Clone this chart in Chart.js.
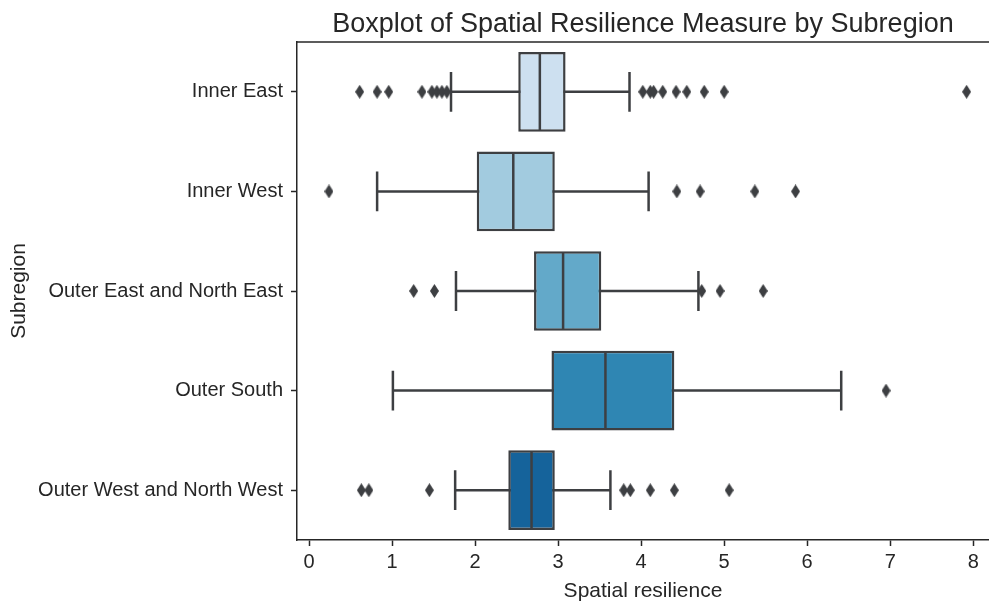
<!DOCTYPE html>
<html>
<head>
<meta charset="utf-8">
<title>Boxplot of Spatial Resilience Measure by Subregion</title>
<script src="https://cdn.jsdelivr.net/npm/chart.js@4/dist/chart.umd.min.js"></script>
<style>
  html, body { margin: 0; padding: 0; background: #ffffff; }
  #wrap { width: 989px; height: 604px; }
</style>
</head>
<body>
<div id="wrap"><canvas id="boxChart" width="989" height="604"></canvas></div>
<script>
const subregions = [
  "Inner East",
  "Inner West",
  "Outer East and North East",
  "Outer South",
  "Outer West and North West",
];

// five-number summaries
const whiskerLow = [1.71, 0.82, 1.77, 1.01, 1.76];
const q1 = [2.52, 2.02, 2.71, 2.92, 2.40];
const median = [2.78, 2.46, 3.06, 3.57, 2.68];
const q3 = [3.09, 2.96, 3.52, 4.40, 2.96];
const whiskerHigh = [3.86, 4.09, 4.69, 6.41, 3.63];

const outliers = [
  [0.61, 0.82, 0.96, 1.36, 1.48, 1.54, 1.60, 1.66, 4.02, 4.11, 4.15, 4.26, 4.42, 4.55, 4.76, 5.00, 7.92],
  [0.24, 4.43, 4.71, 5.37, 5.86],
  [1.26, 1.51, 4.73, 4.95, 5.47],
  [6.95],
  [0.63, 0.72, 1.45, 3.79, 3.87, 4.11, 4.40, 5.06],
];

const xMin = -0.145;
const xMax = 8.19;

const boxColors = ["#cde0f0", "#a2cbdf", "#63a9c9", "#2f86b3", "#15639b"];
const lineColor = "#3d3f42";
const axisColor = "#262626";

Chart.defaults.font.family = "'Liberation Sans', Arial, sans-serif";
Chart.defaults.color = axisColor;

function makeDiamond() {
  const c = document.createElement("canvas");
  c.width = 9;
  c.height = 14;
  const g = c.getContext("2d");
  g.fillStyle = lineColor;
  g.beginPath();
  g.moveTo(4.5, 0);
  g.lineTo(9, 7);
  g.lineTo(4.5, 14);
  g.lineTo(0, 7);
  g.closePath();
  g.fill();
  return c;
}

function bandSize(chart) {
  const y = chart.scales.y;
  if (!y) return 80;
  return Math.abs(y.getPixelForValue(1) - y.getPixelForValue(0));
}

const topBorder = {
  id: "topBorder",
  afterDraw(chart) {
    const { ctx, chartArea } = chart;
    ctx.save();
    ctx.strokeStyle = axisColor;
    ctx.lineWidth = 1.5;
    ctx.beginPath();
    ctx.moveTo(chartArea.left, chartArea.top);
    ctx.lineTo(chartArea.right, chartArea.top);
    ctx.stroke();
    ctx.restore();
  },
};

const whiskerSets = subregions.map((name, i) => ({
  type: "scatter",
  data: [
    { x: whiskerLow[i], y: name },
    { x: whiskerHigh[i], y: name },
  ],
  showLine: true,
  borderColor: lineColor,
  borderWidth: 2.5,
  pointStyle: "line",
  pointRotation: 90,
  pointRadius: (ctx) => bandSize(ctx.chart) * 0.2,
  pointBorderWidth: 2.5,
  pointBorderColor: lineColor,
  order: 3,
}));

const boxSet = {
  type: "bar",
  indexAxis: "y",
  data: subregions.map((name, i) => [q1[i], q3[i]]),
  backgroundColor: boxColors,
  borderColor: lineColor,
  borderWidth: 2.5,
  borderSkipped: false,
  barPercentage: 0.8,
  categoryPercentage: 1,
  order: 2,
};

const medianSet = {
  type: "scatter",
  data: subregions.map((name, i) => ({ x: median[i], y: name })),
  pointStyle: "line",
  pointRotation: 90,
  pointRadius: (ctx) => bandSize(ctx.chart) * 0.4 - 1,
  pointBorderWidth: 2.5,
  pointBorderColor: lineColor,
  order: 1,
};

const outlierPoints = [];
subregions.forEach((name, i) => {
  outliers[i].forEach((v) => {
    outlierPoints.push({ x: v, y: name });
  });
});

const outlierSet = {
  type: "scatter",
  data: outlierPoints,
  pointStyle: makeDiamond(),
  pointRadius: 5,
  order: 0,
};

new Chart(document.getElementById("boxChart"), {
  type: "bar",
  data: {
    labels: subregions,
    datasets: [...whiskerSets, boxSet, medianSet, outlierSet],
  },
  options: {
    indexAxis: "y",
    responsive: false,
    animation: false,
    events: [],
    layout: { autoPadding: false, padding: { left: 0, right: 0, top: 0, bottom: 0 } },
    plugins: {
      legend: { display: false },
      tooltip: { enabled: false },
      title: {
        display: true,
        text: "Boxplot of Spatial Resilience Measure by Subregion",
        fullSize: false,
        color: axisColor,
        font: { size: 27, weight: "normal" },
        padding: { top: 8, bottom: 1.6 },
      },
    },
    scales: {
      x: {
        type: "linear",
        min: xMin,
        max: xMax,
        offset: false,
        afterFit: (scale) => {
          scale.height = 64;
          scale.paddingLeft = 0;
          scale.paddingRight = 0;
        },
        ticks: {
          stepSize: 1,
          includeBounds: false,
          padding: 4,
          font: { size: 20 },
          color: axisColor,
        },
        grid: {
          display: true,
          offset: false,
          drawOnChartArea: false,
          drawTicks: true,
          tickLength: 6,
          tickWidth: 1.5,
          tickColor: axisColor,
        },
        border: { display: true, color: axisColor, width: 1.5 },
        title: {
          display: true,
          text: "Spatial resilience",
          font: { size: 21 },
          color: axisColor,
          padding: { top: 2, bottom: 0 },
        },
      },
      y: {
        type: "category",
        labels: subregions,
        offset: true,
        afterFit: (scale) => {
          scale.width = 297;
        },
        ticks: {
          padding: 8,
          font: { size: 20 },
          color: axisColor,
        },
        grid: {
          display: true,
          drawOnChartArea: false,
          drawTicks: true,
          tickLength: 6,
          tickWidth: 1.5,
          tickColor: axisColor,
          offset: false,
        },
        border: { display: true, color: axisColor, width: 1.5 },
        title: {
          display: true,
          text: "Subregion",
          font: { size: 21 },
          color: axisColor,
          padding: { top: 7, bottom: 0 },
        },
      },
    },
  },
  plugins: [topBorder],
});
</script>
</body>
</html>
